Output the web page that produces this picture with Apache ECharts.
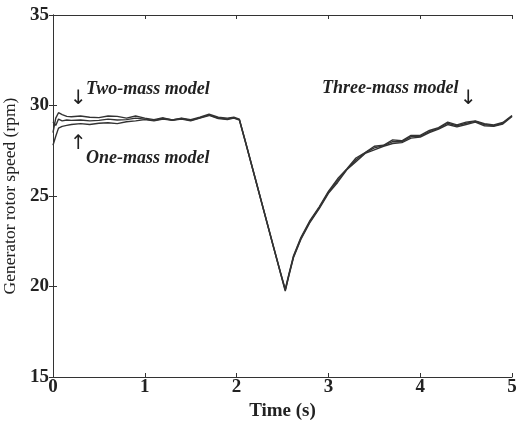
<!DOCTYPE html>
<html><head><meta charset="utf-8">
<script src="https://cdn.jsdelivr.net/npm/echarts@6/dist/echarts.min.js"></script>
<style>html,body{margin:0;padding:0;background:#fff}#c{width:520px;height:423px}</style>
</head><body><div id="c"></div>
<script>
const time = [0,0.03,0.06,0.1,0.15,0.2,0.3,0.4,0.5,0.6,0.7,0.8,0.9,1.0,1.1,1.2,1.3,1.4,1.5,1.6,1.7,1.8,1.9,1.97,2.03,2.1,2.2,2.3,2.4,2.48,2.53,2.57,2.62,2.7,2.8,2.9,3.0,3.1,3.2,3.3,3.4,3.5,3.6,3.7,3.8,3.9,4.0,4.1,4.2,4.3,4.4,4.5,4.6,4.7,4.8,4.9,5.0];
const oneMass = [27.8,28.3,28.75,28.85,28.9,28.95,29.0,28.95,29.02,29.05,29.0,29.1,29.15,29.22,29.15,29.25,29.18,29.25,29.15,29.3,29.45,29.28,29.22,29.3,29.2,27.9,26.0,24.1,22.2,20.7,19.75,20.6,21.6,22.6,23.55,24.3,25.15,25.75,26.45,26.9,27.35,27.55,27.75,27.9,27.95,28.2,28.25,28.5,28.7,28.95,28.82,28.95,29.08,28.88,28.85,28.98,29.4];
const twoMass = [28.5,29.3,29.6,29.5,29.4,29.38,29.42,29.35,29.33,29.42,29.4,29.3,29.42,29.3,29.22,29.32,29.2,29.3,29.22,29.35,29.52,29.35,29.3,29.35,29.25,27.95,26.05,24.15,22.25,20.75,19.85,20.7,21.7,22.7,23.65,24.4,25.25,25.95,26.5,27.1,27.4,27.75,27.8,28.1,28.05,28.35,28.35,28.62,28.78,29.08,28.93,29.08,29.15,29.0,28.92,29.06,29.45];
const threeMass = [29.1,28.9,29.25,29.15,29.2,29.18,29.2,29.15,29.18,29.25,29.2,29.22,29.3,29.25,29.18,29.28,29.2,29.28,29.18,29.32,29.48,29.3,29.26,29.32,29.22,27.92,26.02,24.12,22.22,20.72,19.8,20.65,21.65,22.65,23.6,24.35,25.2,25.85,26.47,27.0,27.38,27.66,27.78,28.0,28.0,28.28,28.3,28.56,28.74,29.02,28.88,29.02,29.12,28.95,28.88,29.02,29.42];
const xTicks = [0,1,2,3,4,5];
const yTicks = [15,20,25,30,35];
const labels = {two:'Two-mass model', one:'One-mass model', three:'Three-mass model'};

const pair = arr => time.map((t,i)=>[t,arr[i]]);
const axCol = '#333';
const font = '"Liberation Serif", "Times New Roman", serif';
const tickLab = {fontFamily:font, fontSize:19, fontWeight:'bold', color:'#222'};
const chart = echarts.init(document.getElementById('c'), null, {renderer:'canvas'});
const lineSeries = (name, arr) => ({name, type:'line', data:pair(arr), showSymbol:false, symbol:'none',
  lineStyle:{color:'#333', width:1.4}, xAxisIndex:0, yAxisIndex:0, animation:false});
chart.setOption({
  backgroundColor:'#fff',
  animation:false,
  grid:{left:53, right:8, top:15, bottom:46, containLabel:false, outerBoundsMode:'none'},
  xAxis:[
    {type:'value', min:xTicks[0], max:xTicks[xTicks.length-1], interval:1, position:'bottom',
     name:'Time (s)', nameLocation:'middle', nameGap:24,
     nameTextStyle:{fontFamily:font, fontSize:19, fontWeight:'bold', color:'#222'},
     axisLine:{show:true, lineStyle:{color:axCol, width:1}},
     axisTick:{show:true, inside:true, length:4, lineStyle:{color:axCol}},
     axisLabel:{...tickLab, margin:1}, splitLine:{show:false}},
    {type:'value', min:0, max:5, interval:1, position:'top',
     axisLine:{show:true, lineStyle:{color:axCol, width:1}},
     axisTick:{show:true, inside:true, length:4, lineStyle:{color:axCol}},
     axisLabel:{show:false}, splitLine:{show:false}}
  ],
  yAxis:[
    {type:'value', min:yTicks[0], max:yTicks[yTicks.length-1], interval:5, position:'left',
     name:'Generator rotor speed (rpm)', nameLocation:'middle', nameGap:32,
     nameTextStyle:{fontFamily:font, fontSize:17.5, color:'#222'},
     axisLine:{show:true, lineStyle:{color:axCol, width:1}},
     axisTick:{show:true, inside:true, length:4, lineStyle:{color:axCol}},
     axisLabel:{...tickLab, margin:4}, splitLine:{show:false}},
    {type:'value', min:15, max:35, interval:5, position:'right',
     axisLine:{show:true, lineStyle:{color:axCol, width:1}},
     axisTick:{show:true, inside:true, length:4, lineStyle:{color:axCol}},
     axisLabel:{show:false}, splitLine:{show:false}}
  ],
  series:[lineSeries(labels.one, oneMass), lineSeries(labels.two, twoMass), lineSeries(labels.three, threeMass)],
  graphic:[
    {type:'text', left:86, top:80, style:{text:labels.two, font:'italic bold 18px ' + font, fill:'#222'}},
    {type:'text', left:86, top:149, style:{text:labels.one, font:'italic bold 18px ' + font, fill:'#222'}},
    {type:'text', left:322, top:79, style:{text:labels.three, font:'italic bold 18px ' + font, fill:'#222'}},
    {type:'text', left:70, top:89, style:{text:'\u2193', font:'20px "DejaVu Sans"', fill:'#222'}},
    {type:'text', left:70, top:134, style:{text:'\u2191', font:'20px "DejaVu Sans"', fill:'#222'}},
    {type:'text', left:460, top:89, style:{text:'\u2193', font:'20px "DejaVu Sans"', fill:'#222'}}
  ]
});
</script></body></html>
